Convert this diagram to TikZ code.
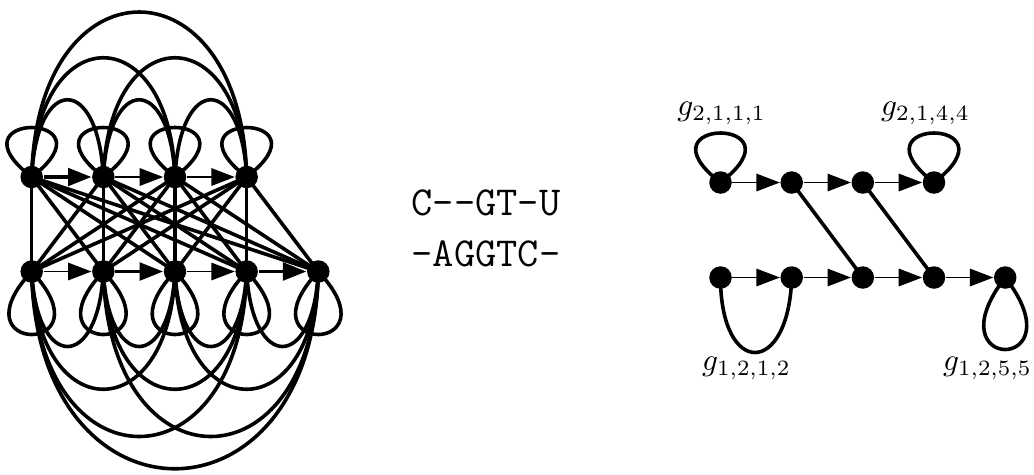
\documentclass[tikz,border=0pt]{standalone}
\usetikzlibrary{arrows.meta}
\tikzset{
  dot/.style={circle, fill=black, inner sep=0pt, minimum size=7.2pt},
  edge/.style={line width=1.15pt},
  thinarrow/.style={line width=0.5pt, -{Triangle[length=7.5pt,width=5.6pt]}},
  thickarrow/.style={line width=1.15pt, -{Triangle[length=7.5pt,width=5.6pt]}},
  lab/.style={anchor=base, inner sep=0pt},
  seq/.style={inner sep=0pt, font=\fontsize{13.2}{16}\selectfont\ttfamily},
}
\begin{document}
\begin{tikzpicture}[x=0.32pt, y=-0.32pt]
\useasboundingbox (0,0) rectangle (1034,474);

% ---------- left graph ----------
\foreach \i/\x in {1/31.7, 2/103.35, 3/175, 4/246.65}
  \node[dot] (t\i) at (\x,177) {};
\foreach \i/\x in {1/31.7, 2/103.35, 3/175, 4/246.65, 5/318.3}
  \node[dot] (b\i) at (\x,271.5) {};

% bipartite edges
\foreach \i in {1,...,4}
  \foreach \j in {1,...,5}
    \draw[edge] (t\i.center) -- (b\j.center);

% top loops
\foreach \i in {1,...,4}
  \draw[edge] (t\i.center) .. controls +(-86,-66) and +(86,-66) .. (t\i.center);
% top arcs
\foreach \i/\j/\h in {1/2/103, 2/3/103, 3/4/103, 1/3/159, 2/4/159, 1/4/220}
  \draw[edge] (t\i.center) .. controls +(5,-\h) and +(-5,-\h) .. (t\j.center);

% bottom loops
\foreach \i in {1,...,5}
  \draw[edge] (b\i.center) .. controls +(-79,84) and +(79,84) .. (b\i.center);
% bottom arcs
\foreach \i/\j/\h in {1/2/100, 2/3/100, 3/4/100, 4/5/100, 1/3/157, 2/4/157, 3/5/157, 1/4/220, 2/5/220, 1/5/263}
  \draw[edge] (b\i.center) .. controls +(5,\h) and +(-5,\h) .. (b\j.center);

% horizontal arrows
\draw[thickarrow] (t1) -- (t2);
\draw[thinarrow] (t2) -- (t3);
\draw[thinarrow] (t3) -- (t4);
\draw[thinarrow] (b1) -- (b2);
\draw[thickarrow] (b2) -- (b3);
\draw[thinarrow] (b3) -- (b4);
\draw[thickarrow] (b4) -- (b5);

% ---------- middle text ----------
\node[seq] (s1) at (486,203) {C{-}{-}GT{-}U};
\node[seq] (s2) at (486,254) {{-}AGGTC{-}};

% ---------- right graph ----------
\foreach \i/\x in {1/720.5, 2/791.7, 3/862.8, 4/934}
  \node[dot] (rt\i) at (\x,182.5) {};
\foreach \i/\x in {1/720.5, 2/791.7, 3/862.8, 4/934, 5/1005.2}
  \node[dot] (rb\i) at (\x,277.5) {};

\draw[thinarrow] (rt1) -- (rt2);
\draw[thinarrow] (rt2) -- (rt3);
\draw[thinarrow] (rt3) -- (rt4);
\draw[thinarrow] (rb1) -- (rb2);
\draw[thinarrow] (rb2) -- (rb3);
\draw[thinarrow] (rb3) -- (rb4);
\draw[thinarrow] (rb4) -- (rb5);

\draw[edge] (rt2.center) -- (rb3.center);
\draw[edge] (rt3.center) -- (rb4.center);

\draw[edge] (rt1.center) .. controls +(-86,-66) and +(86,-66) .. (rt1.center);
\draw[edge] (rt4.center) .. controls +(-86,-66) and +(86,-66) .. (rt4.center);
\draw[edge] (rb5.center) .. controls +(-74.5,96) and +(74.5,96) .. (rb5.center);
\draw[edge] (rb1.center) .. controls +(0,100) and +(-3,100) .. (rb2.center);

\node[lab] (l1) at (721.7,115.5) {$g_{2,1,1,1}$};
\node[lab] (l2) at (925.5,115.5) {$g_{2,1,4,4}$};
\node[lab] (l3) at (746.5,370.5) {$g_{1,2,1,2}$};
\node[lab] (l4) at (987.5,370.5) {$g_{1,2,5,5}$};
\end{tikzpicture}
\end{document}
